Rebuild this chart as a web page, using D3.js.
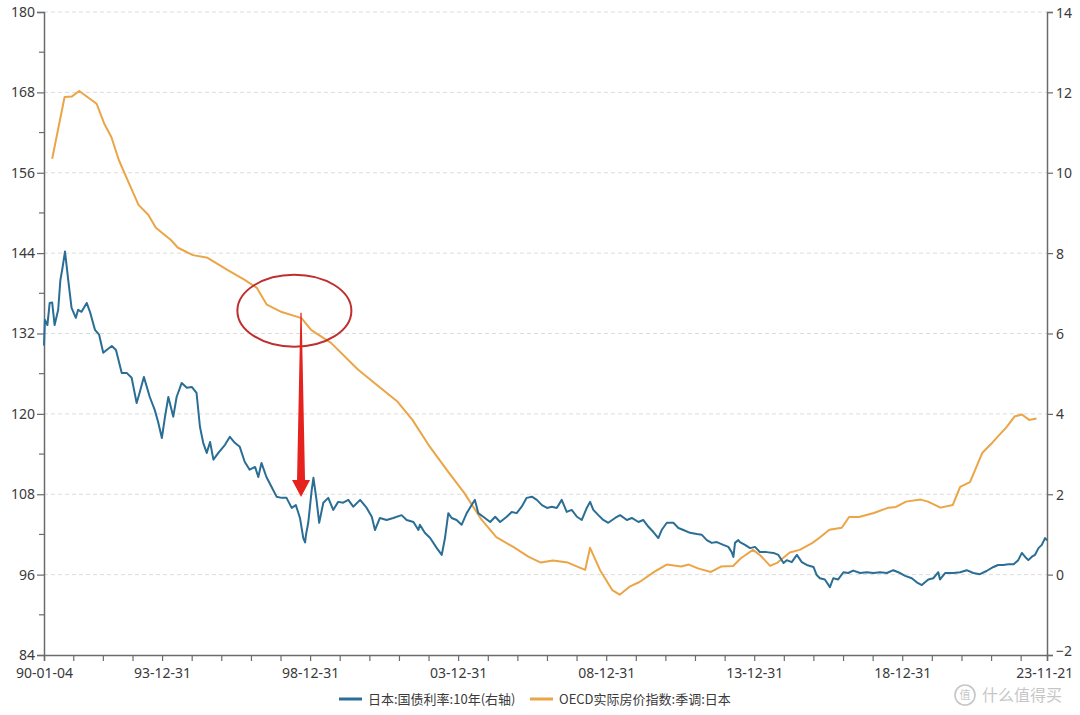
<!DOCTYPE html>
<html>
<head>
<meta charset="utf-8">
<script src="https://cdn.jsdelivr.net/npm/d3@7"></script>
<style>
  html, body { margin: 0; padding: 0; background: #fff; }
  svg { display: block; }
</style>
</head>
<body>
<svg id="chart" width="1080" height="715"></svg>
<script>
// ---------------- DATA ----------------
const seriesNames = ["日本:国债利率:10年(右轴)", "OECD实际房价指数:季调:日本"];

const leftTicks = [84, 96, 108, 120, 132, 144, 156, 168, 180];
const rightTicks = [-2, 0, 2, 4, 6, 8, 10, 12, 14];
const xLabelDates = ["1990-01-04", "1993-12-31", "1998-12-31", "2003-12-31", "2008-12-31", "2013-12-31", "2018-12-31", "2023-11-21"];

// JGB 10Y yield (right axis)
const blueDates = ["1990-01-04","1990-01-15","1990-02-15","1990-03-15","1990-04-15","1990-05-15","1990-06-28","1990-07-25","1990-08-20","1990-09-20","1990-10-30","1990-12-10",
"1991-02-01","1991-03-01","1991-04-12","1991-06-15","1991-07-25","1991-09-25","1991-11-15",
"1992-01-05","1992-02-15","1992-04-20","1992-06-10","1992-08-20","1992-10-20","1992-12-20",
"1993-02-20","1993-04-01","1993-05-20","1993-08-01","1993-10-01","1993-11-12","1993-12-28",
"1994-02-05","1994-03-18","1994-05-18","1994-06-28","1994-08-30","1994-11-01",
"1995-01-01","1995-03-01","1995-04-12","1995-05-22","1995-07-05","1995-08-15","1995-09-25","1995-11-25",
"1996-02-15","1996-04-15","1996-06-15","1996-08-15","1996-10-15","1996-12-15",
"1997-02-20","1997-04-01","1997-05-10","1997-07-10","1997-09-12","1997-11-12",
"1998-01-15","1998-03-15","1998-05-18","1998-07-08","1998-08-28","1998-10-08","1998-10-30","1998-11-10","1998-12-08",
"1999-01-20","1999-02-10","1999-03-20","1999-04-22","1999-06-12","1999-08-12","1999-10-12","1999-12-12",
"2000-02-12","2000-04-15","2000-06-15","2000-09-08","2000-11-28",
"2001-01-30","2001-03-10","2001-05-10","2001-08-01","2001-10-22",
"2002-02-02","2002-04-05","2002-06-28","2002-08-28","2002-09-15","2002-11-15",
"2003-01-20","2003-04-12","2003-06-12","2003-07-22","2003-09-01","2003-10-12","2003-12-12",
"2004-02-12","2004-04-15","2004-06-15","2004-07-25","2004-09-05","2004-11-05",
"2005-01-30","2005-04-01","2005-06-01","2005-08-22","2005-10-22","2005-12-22",
"2006-02-22","2006-04-25","2006-06-28","2006-08-28","2006-10-30",
"2007-01-01","2007-03-01","2007-05-01","2007-07-01","2007-09-01","2007-11-01",
"2008-01-05","2008-03-05","2008-05-05","2008-06-15","2008-07-25","2008-09-25","2008-11-25",
"2009-01-25","2009-04-20","2009-06-20","2009-09-12","2009-11-12",
"2010-02-01","2010-04-01","2010-06-05","2010-08-05","2010-10-05","2010-11-15",
"2011-01-18","2011-04-08","2011-06-10","2011-08-10","2011-11-01",
"2012-01-22","2012-03-25","2012-05-25","2012-07-25","2012-09-25","2012-12-15",
"2013-02-15","2013-03-28","2013-04-18","2013-05-08","2013-06-18","2013-07-08","2013-09-08","2013-11-10",
"2014-01-10","2014-03-12","2014-06-01","2014-08-25","2014-10-25","2014-12-28",
"2015-02-05","2015-04-08","2015-06-10","2015-08-10","2015-10-10",
"2016-01-01","2016-02-10","2016-03-20","2016-05-20","2016-07-22","2016-09-01","2016-11-01",
"2017-01-04","2017-03-05","2017-05-05","2017-07-30","2017-10-20",
"2018-01-10","2018-04-01","2018-06-25","2018-09-12","2018-12-05",
"2019-02-05","2019-04-28","2019-06-28","2019-08-30","2019-10-08","2019-11-18",
"2020-01-18","2020-03-20","2020-04-10","2020-06-12","2020-09-25","2020-12-15",
"2021-03-05","2021-05-25","2021-08-15","2021-11-05",
"2022-01-30","2022-03-28","2022-05-30","2022-08-02","2022-10-05","2022-12-01",
"2023-01-15","2023-02-25","2023-04-05","2023-05-15","2023-06-25","2023-08-08","2023-09-18","2023-10-28","2023-11-21"];
const blueValues = [5.70,6.34,6.21,6.76,6.77,6.21,6.59,7.33,7.63,8.04,7.33,6.64,
6.39,6.59,6.54,6.76,6.54,6.09,5.97,
5.52,5.59,5.69,5.59,5.02,5.02,4.90,
4.27,4.55,4.92,4.42,4.10,3.80,3.40,
3.93,4.42,3.93,4.42,4.77,4.65,
4.67,4.52,3.68,3.28,3.03,3.30,2.86,3.03,
3.23,3.43,3.28,3.18,2.81,2.61,
2.68,2.43,2.78,2.43,2.18,1.94,
1.91,1.91,1.66,1.73,1.41,0.91,0.80,0.99,1.29,
2.11,2.41,1.86,1.29,1.79,1.91,1.61,1.81,
1.79,1.86,1.69,1.86,1.66,
1.44,1.11,1.41,1.36,1.41,
1.48,1.36,1.31,1.11,1.24,1.04,
0.91,0.66,0.49,0.91,1.53,1.41,1.36,
1.24,1.53,1.73,1.86,1.53,1.44,
1.31,1.44,1.31,1.44,1.56,1.53,
1.69,1.91,1.94,1.86,1.73,
1.66,1.69,1.66,1.86,1.56,1.61,
1.44,1.36,1.66,1.81,1.61,1.48,1.36,
1.29,1.41,1.48,1.36,1.41,
1.31,1.36,1.19,1.06,0.91,1.11,
1.29,1.29,1.16,1.11,1.04,
1.01,0.99,0.86,0.79,0.81,0.74,
0.69,0.56,0.44,0.79,0.86,0.81,0.74,0.66,
0.69,0.56,0.56,0.54,0.49,0.29,
0.36,0.31,0.49,0.31,0.24,
0.19,-0.01,-0.09,-0.12,-0.31,-0.09,-0.12,
0.06,0.04,0.10,0.04,0.06,
0.04,0.06,0.04,0.11,0.04,
-0.03,-0.09,-0.19,-0.26,-0.19,-0.12,
-0.09,0.06,-0.12,0.04,0.04,0.06,
0.11,0.04,0.01,0.09,
0.19,0.24,0.24,0.26,0.26,0.36,
0.54,0.44,0.36,0.44,0.49,0.66,0.74,0.91,0.85];

// OECD real house price index, SA, Japan (left axis)
const orangeDates = ["1990-04-15","1990-09-15","1990-12-15","1991-03-15","1991-10-15","1992-01-15","1992-04-15","1992-07-15","1992-11-15",
"1993-03-15","1993-07-15","1993-10-15","1994-04-15","1994-07-15","1995-01-15","1995-07-15","1996-03-15","1996-10-15",
"1997-03-15","1997-07-15","1998-01-15","1998-09-15","1999-01-15","1999-09-15","2000-08-15","2001-05-15","2001-12-15",
"2002-06-15","2003-01-15","2003-08-15","2004-03-15","2004-10-15","2005-04-15","2005-11-15","2006-05-15","2006-10-15",
"2007-03-15","2007-09-15","2008-02-15","2008-04-15","2008-06-15","2008-10-15","2009-03-15","2009-06-15","2009-10-15",
"2010-02-15","2010-08-15","2011-01-15","2011-07-15","2011-10-15","2012-02-15","2012-07-15","2012-11-15","2013-04-15",
"2013-07-15","2013-12-15","2014-03-15","2014-07-15","2014-10-15","2015-03-15","2015-07-15","2015-12-15","2016-03-15",
"2016-07-15","2016-12-15","2017-03-15","2017-07-15","2018-01-15","2018-07-15","2018-10-15","2019-02-15","2019-08-15",
"2019-11-15","2020-04-15","2020-09-15","2020-12-15","2021-04-15","2021-09-15","2022-01-15","2022-07-15","2022-10-15",
"2023-01-15","2023-04-15","2023-07-15"];
const orangeValues = [158.1,167.3,167.4,168.2,166.3,163.4,161.3,157.9,154.5,
151.2,149.7,147.8,146.0,144.8,143.7,143.3,141.5,140.0,
138.8,136.3,135.2,134.3,132.5,130.6,126.6,123.9,121.8,
119.1,115.1,111.6,108.2,104.2,101.6,100.1,98.7,97.8,
98.1,97.8,97.0,96.7,100.0,96.7,93.7,93.0,94.2,
94.9,96.4,97.5,97.2,97.5,96.9,96.4,97.2,97.3,
98.4,99.7,98.9,97.3,97.8,99.3,99.7,100.7,101.5,
102.7,103.0,104.6,104.6,105.2,106.0,106.1,106.9,107.2,
106.9,106.0,106.4,109.1,109.8,114.2,115.7,118.1,119.6,
119.9,119.1,119.3];

// annotation anchors (date, left-axis value)
const ellipseCenter = ["1998-06-20", 135.4];
const ellipseRadius = [57, 36]; // px
const arrowFrom = ["1998-09-10", 135.1];
const arrowTo = ["1998-09-10", 107.6];

// ---------------- CHART ----------------
const W = 1080, H = 715;
const margin = {top: 12, right: 33, bottom: 60, left: 44};
const parse = d3.timeParse("%Y-%m-%d");
const svg = d3.select("#chart");

const x = d3.scaleTime()
  .domain([parse("1990-01-04"), parse("2023-11-21")])
  .range([margin.left, W - margin.right]);
const yL = d3.scaleLinear().domain([84, 180]).range([H - margin.bottom, margin.top]);
const yR = d3.scaleLinear().domain([-2, 14]).range([H - margin.bottom, margin.top]);

const numFont = "'Noto Sans', 'DejaVu Sans', sans-serif";
const axisColor = "#6b6b6b";
const textColor = "#3a3a3a";

// grid
svg.append("g").selectAll("line")
  .data(leftTicks.filter(d => d !== 84))
  .join("line")
  .attr("x1", margin.left).attr("x2", W - margin.right)
  .attr("y1", d => yL(d)).attr("y2", d => yL(d))
  .attr("stroke", "#dcdcdc").attr("stroke-width", 1)
  .attr("stroke-dasharray", "4,3");

// left axis
const gL = svg.append("g").attr("transform", `translate(${margin.left},0)`)
  .call(d3.axisLeft(yL).tickValues(leftTicks).tickSize(7).tickPadding(2).tickFormat(d3.format("d")));
// minor ticks left
gL.append("g").selectAll("line")
  .data(d3.range(90, 180, 12))
  .join("line")
  .attr("x1", -5).attr("x2", 0)
  .attr("y1", d => yL(d)).attr("y2", d => yL(d))
  .attr("stroke", axisColor).attr("stroke-width", 1.2);

// right axis
const gR = svg.append("g").attr("transform", `translate(${W - margin.right},0)`)
  .call(d3.axisRight(yR).tickValues(rightTicks).tickSize(6).tickPadding(3).tickFormat(d3.format("d")));

// x axis
const yearEnds = d3.range(1990, 2023).map(y => parse(`${y}-12-31`));
const xTickVals = [parse("1990-01-04"), ...yearEnds, parse("2023-11-21")];
const labelSet = new Set(xLabelDates);
const fmt = d3.timeFormat("%Y-%m-%d");
const fmtShort = d3.timeFormat("%y-%m-%d");
const gX = svg.append("g").attr("transform", `translate(0,${H - margin.bottom})`)
  .call(d3.axisBottom(x).tickValues(xTickVals).tickSize(6).tickPadding(7)
    .tickFormat(d => labelSet.has(fmt(d)) ? fmtShort(d) : ""));

[gL, gR, gX].forEach(g => {
  g.select(".domain").attr("stroke", axisColor).attr("stroke-width", 1.5);
  g.selectAll(".tick line").attr("stroke", axisColor).attr("stroke-width", 1.2);
  g.selectAll(".tick text").attr("fill", textColor)
    .style("font-family", numFont).style("font-size", "14px");
});
gR.selectAll(".tick text").attr("dy", "0.36em");
// lowest right label sits just above the x-axis labels
gR.selectAll(".tick").filter(d => d === -2).select("text").attr("dy", "0.05em");
gX.selectAll(".tick text").filter(function() { return this.textContent === "23-11-21"; })
  .attr("dx", "-0.2em");

// lines
const blueData = d3.zip(blueDates, blueValues).map(([d, v]) => ({date: parse(d), value: v}));
const orangeData = d3.zip(orangeDates, orangeValues).map(([d, v]) => ({date: parse(d), value: v}));

const blueColor = "#2a6e95";
const orangeColor = "#eba547";

svg.append("path")
  .datum(orangeData)
  .attr("fill", "none").attr("stroke", orangeColor).attr("stroke-width", 2)
  .attr("stroke-linejoin", "round")
  .attr("d", d3.line().x(d => x(d.date)).y(d => yL(d.value)));

svg.append("path")
  .datum(blueData)
  .attr("fill", "none").attr("stroke", blueColor).attr("stroke-width", 2)
  .attr("stroke-linejoin", "round")
  .attr("d", d3.line().x(d => x(d.date)).y(d => yR(d.value)));

// annotation: ellipse
svg.append("ellipse")
  .attr("cx", x(parse(ellipseCenter[0]))).attr("cy", yL(ellipseCenter[1]))
  .attr("rx", ellipseRadius[0]).attr("ry", ellipseRadius[1])
  .attr("fill", "none").attr("stroke", "#bf2f2f").attr("stroke-width", 2);

// annotation: arrow
{
  const ax = x(parse(arrowFrom[0]));
  const y0 = yL(arrowFrom[1]);
  const y1 = yL(arrowTo[1]);
  const headLen = 17, headHalf = 9;
  const yb = y1 - headLen;
  const p = d3.path();
  p.moveTo(ax - 0.6, y0);
  p.lineTo(ax + 0.6, y0);
  p.lineTo(ax + 4, yb);
  p.lineTo(ax + headHalf, yb);
  p.lineTo(ax, y1);
  p.lineTo(ax - headHalf, yb);
  p.lineTo(ax - 4, yb);
  p.closePath();
  svg.append("path").attr("d", p.toString()).attr("fill", "#e5221d");
}

// legend
const legend = svg.append("g").attr("transform", `translate(0,${H - 16})`);
const legendItems = [
  {name: seriesNames[0], color: blueColor, x0: 339},
  {name: seriesNames[1], color: orangeColor, x0: 530}
];
legendItems.forEach(it => {
  legend.append("line").attr("x1", it.x0).attr("x2", it.x0 + 23)
    .attr("y1", 0).attr("y2", 0).attr("stroke", it.color).attr("stroke-width", 3);
  legend.append("text").attr("x", it.x0 + 29).attr("y", 0).attr("dy", "0.35em")
    .attr("fill", textColor)
    .style("font-family", "'Noto Sans CJK SC', sans-serif").style("font-size", "13px")
    .text(it.name);
});

// watermark
const wm = svg.append("g").attr("opacity", 0.55);
wm.append("circle").attr("cx", 965).attr("cy", 695).attr("r", 10)
  .attr("fill", "none").attr("stroke", "#999").attr("stroke-width", 1.6);
wm.append("text").attr("x", 965).attr("y", 695).attr("dy", "0.36em").attr("text-anchor", "middle")
  .attr("fill", "#999").style("font-family", "'Noto Sans CJK SC', sans-serif").style("font-size", "11px").text("值");
wm.append("text").attr("x", 982).attr("y", 695).attr("dy", "0.36em")
  .attr("fill", "#999").style("font-family", "'Noto Sans CJK SC', sans-serif").style("font-size", "16px").text("什么值得买");
</script>
</body>
</html>
